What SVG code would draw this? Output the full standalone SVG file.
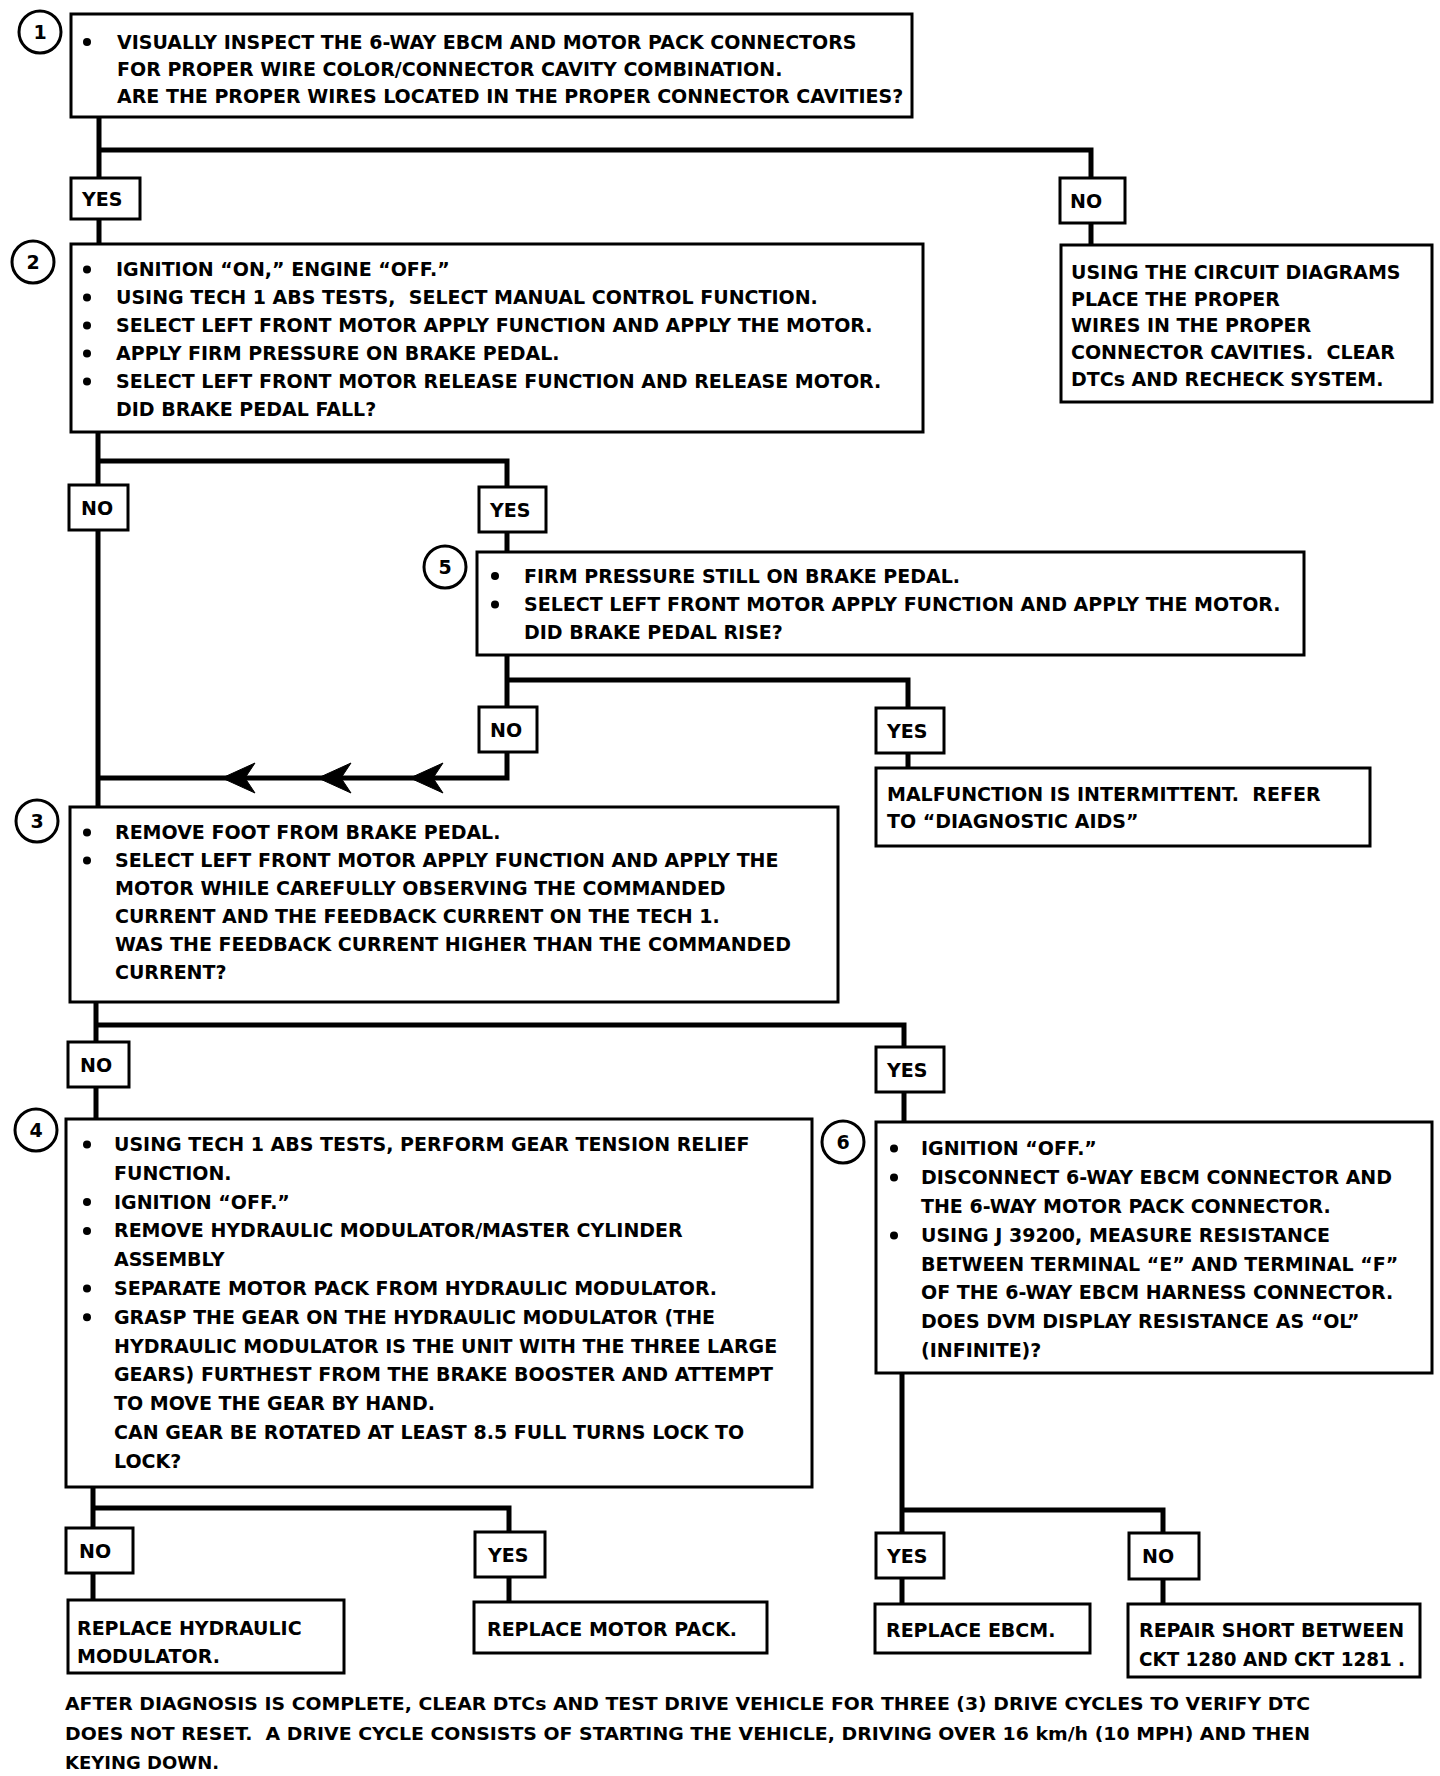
<svg xmlns="http://www.w3.org/2000/svg" width="1440" height="1776" viewBox="0 0 1440 1776">
<style>
.box{fill:#fff;stroke:#000;stroke-width:3}
.lbl{fill:#fff;stroke:#000;stroke-width:3}
.conn{fill:none;stroke:#000;stroke-width:5}
.t{font-family:"DejaVu Sans","Liberation Sans",sans-serif;font-weight:bold;font-size:19px;fill:#000}
.lt{font-family:"DejaVu Sans","Liberation Sans",sans-serif;font-weight:bold;font-size:19px;fill:#000}
.ft{font-family:"DejaVu Sans","Liberation Sans",sans-serif;font-weight:bold;font-size:18px;fill:#000}
.num{fill:#fff;stroke:#000;stroke-width:3}
.nt{font-family:"DejaVu Sans","Liberation Sans",sans-serif;font-weight:bold;font-size:19px;fill:#000;text-anchor:middle}
.b{fill:#000}
.arr{fill:#000;stroke:#000;stroke-width:1}
</style>
<rect width="1440" height="1776" fill="#fff"/>

<g id="connectors">
<path class="conn" d="M99,117 V178 M99,150 H1091 V178 M1091,223 V245 M99,219 V244"/>
<path class="conn" d="M98,432 V485 M98,530 V807 M98,461 H507 V487 M507,532 V552"/>
<path class="conn" d="M507,655 V707 M507,680 H908 V708 M908,753 V768 M507,752 V778 H98"/>
<path class="arr" d="M222,778 L255,763 L245,778 L255,793 Z M318,778 L351,763 L341,778 L351,793 Z M410,778 L443,763 L433,778 L443,793 Z"/>
<path class="conn" d="M96,1002 V1042 M96,1025 H904 V1047 M96,1087 V1119 M904,1092 V1122"/>
<path class="conn" d="M93,1487 V1528 M93,1508 H509 V1532 M93,1573 V1600 M509,1577 V1602"/>
<path class="conn" d="M902,1373 V1533 M902,1510 H1163 V1533 M902,1578 V1604 M1163,1579 V1604"/>
</g>

<g id="labels">
<g id="l1"><rect class="lbl" x="71" y="178" width="69" height="41"/><text class="lt" x="82" y="206">YES</text></g>
<g id="l2"><rect class="lbl" x="1060" y="178" width="65" height="45"/><text class="lt" x="1070" y="208">NO</text></g>
<g id="l3"><rect class="lbl" x="69" y="485" width="59" height="45"/><text class="lt" x="81" y="515">NO</text></g>
<g id="l4"><rect class="lbl" x="479" y="487" width="67" height="45"/><text class="lt" x="490" y="517">YES</text></g>
<g id="l5"><rect class="lbl" x="479" y="707" width="58" height="45"/><text class="lt" x="490" y="737">NO</text></g>
<g id="l6"><rect class="lbl" x="876" y="708" width="68" height="45"/><text class="lt" x="887" y="738">YES</text></g>
<g id="l7"><rect class="lbl" x="68" y="1042" width="61" height="45"/><text class="lt" x="80" y="1072">NO</text></g>
<g id="l8"><rect class="lbl" x="876" y="1047" width="68" height="45"/><text class="lt" x="887" y="1077">YES</text></g>
<g id="l9"><rect class="lbl" x="66" y="1528" width="67" height="45"/><text class="lt" x="79" y="1558">NO</text></g>
<g id="l10"><rect class="lbl" x="475" y="1532" width="70" height="45"/><text class="lt" x="488" y="1562">YES</text></g>
<g id="l11"><rect class="lbl" x="876" y="1533" width="68" height="45"/><text class="lt" x="887" y="1563">YES</text></g>
<g id="l12"><rect class="lbl" x="1129" y="1533" width="70" height="46"/><text class="lt" x="1142" y="1563">NO</text></g>
</g>

<g id="step1">
<circle class="num" cx="40" cy="32" r="21"/><text class="nt" x="40" y="39">1</text>
<rect class="box" x="71" y="14" width="841" height="103"/>
<circle class="b" cx="87" cy="42" r="4"/>
<text class="t" x="117" y="48.5">VISUALLY INSPECT THE 6-WAY EBCM AND MOTOR PACK CONNECTORS</text>
<text class="t" x="117" y="76">FOR PROPER WIRE COLOR/CONNECTOR CAVITY COMBINATION.</text>
<text class="t" x="117" y="103">ARE THE PROPER WIRES LOCATED IN THE PROPER CONNECTOR CAVITIES?</text>
</g>

<g id="fix-wires">
<rect class="box" x="1061" y="245" width="371" height="157"/>
<text class="t" x="1071" y="279">USING THE CIRCUIT DIAGRAMS</text>
<text class="t" x="1071" y="305.5">PLACE THE PROPER</text>
<text class="t" x="1071" y="332">WIRES IN THE PROPER</text>
<text class="t" x="1071" y="359">CONNECTOR CAVITIES.&#160; CLEAR</text>
<text class="t" x="1071" y="386">DTCs AND RECHECK SYSTEM.</text>
</g>

<g id="step2">
<circle class="num" cx="33" cy="262" r="21"/><text class="nt" x="33" y="269">2</text>
<rect class="box" x="71" y="244" width="852" height="188"/>
<circle class="b" cx="87" cy="269.5" r="4"/>
<circle class="b" cx="87" cy="297.5" r="4"/>
<circle class="b" cx="87" cy="325.5" r="4"/>
<circle class="b" cx="87" cy="353.5" r="4"/>
<circle class="b" cx="87" cy="381.5" r="4"/>
<text class="t" x="116" y="276">IGNITION “ON,” ENGINE “OFF.”</text>
<text class="t" x="116" y="304">USING TECH 1 ABS TESTS,&#160; SELECT MANUAL CONTROL FUNCTION.</text>
<text class="t" x="116" y="332">SELECT LEFT FRONT MOTOR APPLY FUNCTION AND APPLY THE MOTOR.</text>
<text class="t" x="116" y="360">APPLY FIRM PRESSURE ON BRAKE PEDAL.</text>
<text class="t" x="116" y="388">SELECT LEFT FRONT MOTOR RELEASE FUNCTION AND RELEASE MOTOR.</text>
<text class="t" x="116" y="416">DID BRAKE PEDAL FALL?</text>
</g>

<g id="step5">
<circle class="num" cx="445" cy="567" r="21"/><text class="nt" x="445" y="574">5</text>
<rect class="box" x="477" y="552" width="827" height="103"/>
<circle class="b" cx="495" cy="576" r="4"/>
<circle class="b" cx="495" cy="604.5" r="4"/>
<text class="t" x="524" y="582.5">FIRM PRESSURE STILL ON BRAKE PEDAL.</text>
<text class="t" x="524" y="611">SELECT LEFT FRONT MOTOR APPLY FUNCTION AND APPLY THE MOTOR.</text>
<text class="t" x="524" y="639">DID BRAKE PEDAL RISE?</text>
</g>

<g id="intermittent">
<rect class="box" x="876" y="768" width="494" height="78"/>
<text class="t" x="887" y="801">MALFUNCTION IS INTERMITTENT.&#160; REFER</text>
<text class="t" x="887" y="828">TO “DIAGNOSTIC AIDS”</text>
</g>

<g id="step3">
<circle class="num" cx="37" cy="821" r="21"/><text class="nt" x="37" y="828">3</text>
<rect class="box" x="70" y="807" width="768" height="195"/>
<circle class="b" cx="87" cy="832.5" r="4"/>
<circle class="b" cx="87" cy="860.5" r="4"/>
<text class="t" x="115" y="839">REMOVE FOOT FROM BRAKE PEDAL.</text>
<text class="t" x="115" y="867">SELECT LEFT FRONT MOTOR APPLY FUNCTION AND APPLY THE</text>
<text class="t" x="115" y="895">MOTOR WHILE CAREFULLY OBSERVING THE COMMANDED</text>
<text class="t" x="115" y="923">CURRENT AND THE FEEDBACK CURRENT ON THE TECH 1.</text>
<text class="t" x="115" y="951">WAS THE FEEDBACK CURRENT HIGHER THAN THE COMMANDED</text>
<text class="t" x="115" y="979">CURRENT?</text>
</g>

<g id="step4">
<circle class="num" cx="36" cy="1130" r="21"/><text class="nt" x="36" y="1137">4</text>
<rect class="box" x="66" y="1119" width="746" height="368"/>
<circle class="b" cx="87" cy="1144.5" r="4"/>
<circle class="b" cx="87" cy="1202.1" r="4"/>
<circle class="b" cx="87" cy="1230.9" r="4"/>
<circle class="b" cx="87" cy="1288.5" r="4"/>
<circle class="b" cx="87" cy="1317.3" r="4"/>
<text class="t" x="114" y="1151">USING TECH 1 ABS TESTS, PERFORM GEAR TENSION RELIEF</text>
<text class="t" x="114" y="1179.8">FUNCTION.</text>
<text class="t" x="114" y="1208.6">IGNITION “OFF.”</text>
<text class="t" x="114" y="1237.4">REMOVE HYDRAULIC MODULATOR/MASTER CYLINDER</text>
<text class="t" x="114" y="1266.2">ASSEMBLY</text>
<text class="t" x="114" y="1295">SEPARATE MOTOR PACK FROM HYDRAULIC MODULATOR.</text>
<text class="t" x="114" y="1323.8">GRASP THE GEAR ON THE HYDRAULIC MODULATOR (THE</text>
<text class="t" x="114" y="1352.6">HYDRAULIC MODULATOR IS THE UNIT WITH THE THREE LARGE</text>
<text class="t" x="114" y="1381.4">GEARS) FURTHEST FROM THE BRAKE BOOSTER AND ATTEMPT</text>
<text class="t" x="114" y="1410.2">TO MOVE THE GEAR BY HAND.</text>
<text class="t" x="114" y="1439">CAN GEAR BE ROTATED AT LEAST 8.5 FULL TURNS LOCK TO</text>
<text class="t" x="114" y="1467.8">LOCK?</text>
</g>

<g id="step6">
<circle class="num" cx="843" cy="1142" r="21"/><text class="nt" x="843" y="1149">6</text>
<rect class="box" x="876" y="1122" width="556" height="251"/>
<circle class="b" cx="894" cy="1148.5" r="4"/>
<circle class="b" cx="894" cy="1177.5" r="4"/>
<circle class="b" cx="894" cy="1235.5" r="4"/>
<text class="t" x="921" y="1155">IGNITION “OFF.”</text>
<text class="t" x="921" y="1184">DISCONNECT 6-WAY EBCM CONNECTOR AND</text>
<text class="t" x="921" y="1213">THE 6-WAY MOTOR PACK CONNECTOR.</text>
<text class="t" x="921" y="1242">USING J 39200, MEASURE RESISTANCE</text>
<text class="t" x="921" y="1270.5">BETWEEN TERMINAL “E” AND TERMINAL “F”</text>
<text class="t" x="921" y="1299">OF THE 6-WAY EBCM HARNESS CONNECTOR.</text>
<text class="t" x="921" y="1328">DOES DVM DISPLAY RESISTANCE AS “OL”</text>
<text class="t" x="921" y="1357">(INFINITE)?</text>
</g>

<g id="replace-hydraulic">
<rect class="box" x="68" y="1600" width="276" height="73"/>
<text class="t" x="77" y="1635">REPLACE HYDRAULIC</text>
<text class="t" x="77" y="1663">MODULATOR.</text>
</g>
<g id="replace-motor">
<rect class="box" x="474" y="1602" width="293" height="51"/>
<text class="t" x="487" y="1636">REPLACE MOTOR PACK.</text>
</g>
<g id="replace-ebcm">
<rect class="box" x="875" y="1604" width="215" height="49"/>
<text class="t" x="886" y="1637">REPLACE EBCM.</text>
</g>
<g id="repair-short">
<rect class="box" x="1128" y="1604" width="292" height="73"/>
<text class="t" x="1139" y="1637">REPAIR SHORT BETWEEN</text>
<text class="t" x="1139" y="1666" textLength="266" lengthAdjust="spacingAndGlyphs">CKT 1280 AND CKT 1281 .</text>
</g>

<g id="footer">
<text class="ft" x="65" y="1710" textLength="1245" lengthAdjust="spacingAndGlyphs">AFTER DIAGNOSIS IS COMPLETE, CLEAR DTCs AND TEST DRIVE VEHICLE FOR THREE (3) DRIVE CYCLES TO VERIFY DTC</text>
<text class="ft" x="65" y="1740" textLength="1245" lengthAdjust="spacingAndGlyphs">DOES NOT RESET.&#160; A DRIVE CYCLE CONSISTS OF STARTING THE VEHICLE, DRIVING OVER 16 km/h (10 MPH) AND THEN</text>
<text class="ft" x="65" y="1769">KEYING DOWN.</text>
</g>
</svg>
